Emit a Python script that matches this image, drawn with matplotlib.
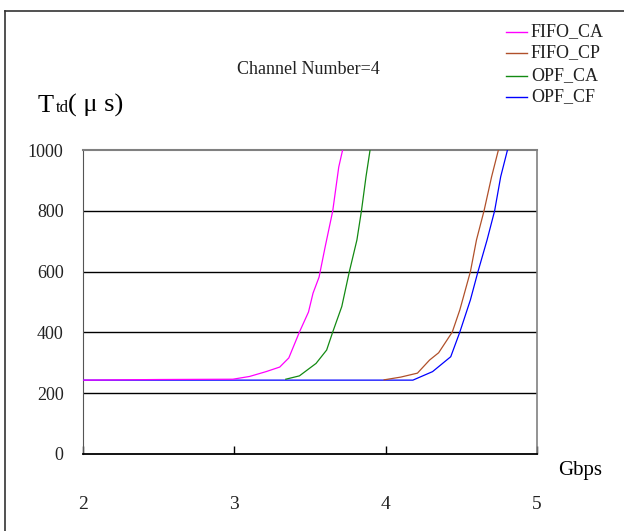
import matplotlib
matplotlib.use('Agg')
import matplotlib.pyplot as plt
from matplotlib.lines import Line2D

# values (Gbps, Ttd in microseconds)
fifo_ca_x = [2.0, 2.5, 2.99, 3.1, 3.21, 3.30, 3.36, 3.43, 3.49, 3.52, 3.56, 3.60, 3.65, 3.69, 3.72]
fifo_ca_y = [243, 245, 246, 255, 271, 286, 316, 401, 467, 529, 582, 681, 799, 944, 1010]

fifo_cp_x = [3.99, 4.10, 4.21, 4.29, 4.35, 4.44, 4.49, 4.56, 4.60, 4.65, 4.70, 4.75]
fifo_cp_y = [244, 253, 266, 309, 333, 401, 474, 600, 704, 800, 912, 1010]

opf_ca_x = [3.34, 3.43, 3.54, 3.61, 3.65, 3.71, 3.76, 3.81, 3.84, 3.87, 3.90]
opf_ca_y = [246, 257, 298, 342, 401, 485, 600, 704, 800, 912, 1010]

opf_cf_x = [2.0, 4.18, 4.31, 4.43, 4.49, 4.56, 4.61, 4.67, 4.72, 4.76, 4.81]
opf_cf_y = [243, 243, 271, 320, 401, 507, 600, 704, 800, 912, 1010]

series = [
    ('FIFO_CA', fifo_ca_x, fifo_ca_y, '#ff00ff'),
    ('FIFO_CP', fifo_cp_x, fifo_cp_y, '#b0502a'),
    ('OPF_CA', opf_ca_x, opf_ca_y, '#138a13'),
    ('OPF_CF', opf_cf_x, opf_cf_y, '#0000ff'),
]

x_ticks = [2, 3, 4, 5]
y_ticks = [0, 200, 400, 600, 800, 1000]

W, H = 624, 531
plt.rcParams['font.family'] = ['Liberation Serif', 'DejaVu Serif']

fig = plt.figure(figsize=(W / 100, H / 100), dpi=100)
ax = fig.add_axes([83 / W, (H - 454) / H, 454 / W, 304 / H])

# draw blue first so the others sit on top, like the reference
for name, xs, ys, col in reversed(series):
    ax.plot(xs, ys, color=col, lw=0.9, zorder=3)

ax.set_xlim(2, 5)
ax.set_ylim(0, 1000)
ax.set_xticks(x_ticks)
ax.set_yticks(y_ticks)
ax.set_xticklabels([str(t) for t in x_ticks], fontsize=14, color='#222222')
ax.set_yticklabels([str(t) for t in y_ticks], fontsize=13, color='#222222')
ax.tick_params(axis='x', direction='in', length=6, width=1, pad=30)
ax.tick_params(axis='y', length=0, pad=14)

for v in y_ticks[1:-1]:
    ax.axhline(v, color='black', lw=1, zorder=1)
ax.spines['top'].set_color('#808080')
ax.spines['top'].set_linewidth(1.5)
ax.spines['right'].set_color('#808080')
ax.spines['right'].set_linewidth(1.2)
ax.spines['left'].set_color('#555555')
ax.spines['bottom'].set_color('black')
ax.spines['bottom'].set_linewidth(1.3)

# texts
fig.text(308 / W, 1 - 70 / H, 'Channel Number=4', fontsize=13, ha='center', va='center',
         color='#222222')
fig.text(580 / W, 1 - 470 / H, 'Gbps', fontsize=15, ha='center', va='center')
base = 1 - 112 / H
fig.text(38 / W, base, 'T', fontsize=19, va='baseline')
fig.text(56 / W, base, 'td', fontsize=12, va='baseline')
fig.text(68 / W, base, '( μ s)', fontsize=19, va='baseline')

# legend drawn by hand in the top right corner
rows = [32, 53, 76, 97]
for (name, xs, ys, col), ry in zip(series, rows):
    yy = 1 - ry / H
    fig.add_artist(Line2D([506 / W, 527 / W], [yy, yy], color=col, lw=1,
                          transform=fig.transFigure))
    fig.text(531 / W, yy, name, fontsize=13, va='center', color='#222222')

# outer frame (left and top edges visible)
fig.add_artist(Line2D([5 / W, 5 / W], [0, 1 - 11 / H], color='#333333', lw=1.2,
                      transform=fig.transFigure))
fig.add_artist(Line2D([5 / W, 1], [1 - 11 / H, 1 - 11 / H], color='#333333', lw=1.2,
                      transform=fig.transFigure))

fig.savefig('out.png', dpi=100)
